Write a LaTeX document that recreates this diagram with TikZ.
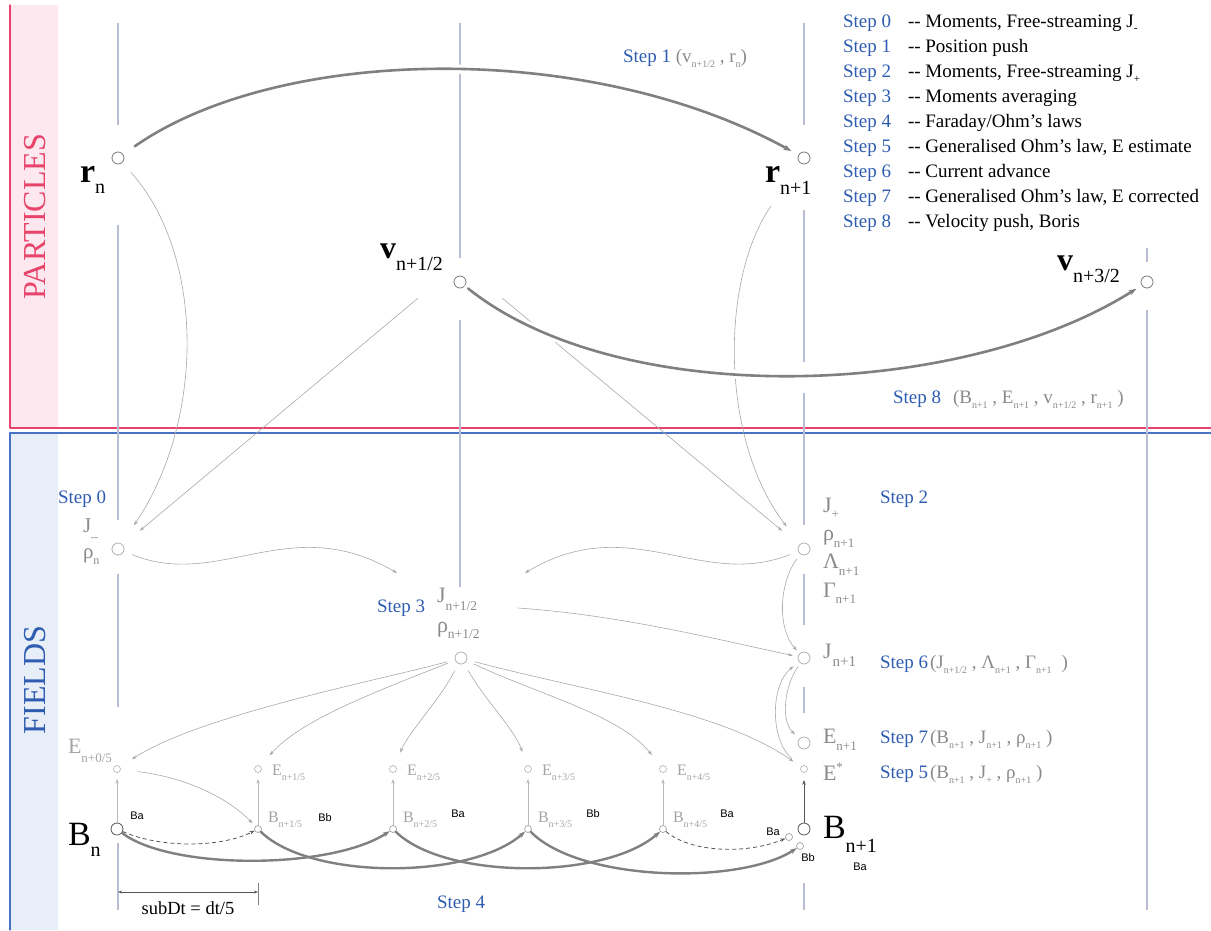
\documentclass[tikz,border=0pt]{standalone}
\usepackage{fontspec}
\setmainfont{Liberation Serif}
\newfontfamily\sansf{Liberation Sans}
\usetikzlibrary{arrows.meta}

\definecolor{pinkline}{HTML}{E8436A}
\definecolor{pinkfill}{HTML}{FCE8EE}
\definecolor{blueline}{HTML}{4A72C4}
\definecolor{bluefill}{HTML}{E8EEF8}
\definecolor{stepblue}{HTML}{2E5CB0}
\definecolor{timeline}{HTML}{B8BDD3}
\definecolor{nodegray}{HTML}{7A7A7A}
\definecolor{fieldgray}{HTML}{B0B0B0}
\definecolor{smallgray}{HTML}{B8B8B8}
\definecolor{arrowgray}{HTML}{A8A8A8}
\definecolor{thickgray}{HTML}{808080}
\definecolor{darkline}{HTML}{555555}
\definecolor{labgray}{HTML}{8A8A8A}
\definecolor{sublabgray}{HTML}{A4A4A4}

\newcommand{\fsz}[1]{\fontsize{#1}{#1}\selectfont}
\newcommand{\sublo}[3]{\raisebox{-#1pt}{\fsz{#2}#3}}
\newcommand{\dd}{-{}-\ }

\tikzset{
  dot/.style={circle, draw=nodegray, fill=white, line width=0.8pt, minimum size=12pt, inner sep=0pt},
  fdot/.style={dot, draw=fieldgray},
  sdot/.style={circle, draw=smallgray, fill=white, line width=0.7pt, minimum size=7pt, inner sep=0pt},
  tline/.style={draw=timeline, line width=1.4pt, line cap=butt},
  thinarr/.style={draw=arrowgray, line width=0.6pt, -{Stealth[length=5pt,width=3.4pt]}},
  thickarc/.style={draw=thickgray, line width=2.6pt, -{Stealth[length=8pt,width=5.5pt]},
    preaction={draw=white, line width=9pt, -}},
  thickB/.style={draw=thickgray, line width=2.4pt, -{Stealth[length=7pt,width=5pt]}},
  dashB/.style={draw=darkline, line width=0.8pt, line cap=butt, dash pattern=on 4pt off 3pt, -{Stealth[length=5pt,width=3.5pt]}},
  lbl/.style={anchor=base west, inner sep=0pt, outer sep=0pt, text=labgray},
  steplbl/.style={lbl, text=stepblue, font=\fsz{19}},
  balbl/.style={inner sep=0pt, font=\sansf\fsz{11}},
}

\begin{document}
\begin{tikzpicture}[x=1pt, y=-1pt, line join=round, line cap=round, >=stealth]
\useasboundingbox (0,0) rectangle (1211,930);

% panels
\fill[pinkfill] (10,5) rectangle (58,428);
\draw[pinkline, line width=1.2pt] (10,5) -- (10,428) -- (1211,428);
\fill[bluefill] (10,433) rectangle (58,930);
\draw[blueline, line width=1.2pt] (10,930) -- (10,433) -- (1211,433);
\node[rotate=90, text=pinkline, font=\fsz{32}] (ptitle) at (35,217) {PARTICLES};
\node[rotate=90, text=stepblue, font=\fsz{32}] (ftitle) at (35,680) {FIELDS};

% time lines
\foreach \x/\a/\b in {118/23/125, 118/225/520, 118/574/707, 118/843/910,
    460/23/258, 460/320/587, 804/23/125, 804/210/362, 804/393/525,
    804/574/625, 804/687/713, 804/883/910, 1147/248/262, 1147/310/910}
  \draw[tline] (\x,\a) -- (\x,\b);

% particle nodes
\node[dot] (rn) at (118,158) {};
\node[dot] (rn1) at (804,158) {};
\node[dot] (vh) at (460,282) {};
\node[dot] (v3h) at (1147,282) {};
\coordinate (vtop) at (460,263);

% field nodes
\node[fdot] (Jm) at (118,549) {};
\node[fdot] (Jh) at (461,658) {};
\node[fdot] (Jp) at (804,549) {};
\node[fdot] (Jn1) at (804,658) {};
\node[fdot] (En1) at (804,743) {};
\node[sdot] (E5) at (804,769) {};
\node[dot, draw=darkline] (B0) at (117,829) {};
\node[dot, draw=darkline] (Bn1) at (804,829) {};
\node[sdot, draw=nodegray!70] (Ba) at (789,837) {};
\node[sdot, draw=nodegray!70] (Bb) at (800,846) {};
\node[sdot] (E0) at (117,769) {};
\foreach \k/\x in {1/258, 2/393, 3/528, 4/663} {
  \node[sdot] (E\k) at (\x,769) {};
  \node[sdot, draw=nodegray!70] (B\k) at (\x,829) {};
  \node[lbl, text=sublabgray] (E\k lab) at (\x+14,775) {\fsz{16}E\sublo{5}{10}{n+\k/5}};
  \node[lbl, text=sublabgray] (B\k lab) at (\x+10,822) {\fsz{16}B\sublo{5}{10}{n+\k/5}};
}
\coordinate (Jhin1) at (397,573);
\coordinate (Jhin2) at (525,573);
\coordinate (Jhout) at (518,608);

% particles to fields
\draw[thinarr, shorten <=13pt, shorten >=22pt] (rn) .. controls (205,255) and (205,420) .. (Jm);
\draw[thinarr, shorten <=55pt, shorten >=22pt] (vtop) -- (Jm);
\draw[thinarr, shorten <=55pt, shorten >=22pt] (vtop) -- (Jp);
\draw[thinarr, shorten <=52pt, shorten >=22pt] (rn1) .. controls (720,280) and (720,440) .. (Jp);

% moments
\draw[thinarr, shorten <=9pt] (Jm) .. controls (220,590) and (290,510) .. (Jhin1);
\draw[thinarr, shorten <=9pt] (Jp) .. controls (700,590) and (630,510) .. (Jhin2);
\draw[thinarr, shorten >=5pt] (Jhout) .. controls (620,615) and (720,640) .. (Jn1);
\draw[thinarr, shorten <=6pt, shorten >=4pt] (Jp) .. controls (778,585) and (778,630) .. (Jn1);
\draw[thinarr, shorten <=4pt, shorten >=6pt] (Jn1) .. controls (785,685) and (780,720) .. (En1);
\draw[thinarr, shorten <=12pt, shorten >=7pt] (E5) .. controls (770,740) and (770,685) .. (Jn1);

% J_{n+1/2} to the E sub-steps
\foreach \t/\a/\b/\s in {E0/{380,680}/{200,715}/14, E1/{380,690}/{300,720}/14,
    E2/{440,700}/{410,730}/14, E3/{485,700}/{515,730}/14,
    E4/{540,695}/{620,715}/14, E5/{580,690}/{720,710}/9}
  \draw[thinarr, shorten <=8pt, shorten >=\s pt] (Jh) .. controls (\a) and (\b) .. (\t);
\draw[thinarr, shorten <=17pt, shorten >=4pt] (E0) .. controls (190,778) and (230,800) .. (B1);

% B to E
\foreach \k in {0,...,4}
  \draw[thinarr, draw=smallgray, shorten >=6pt] (B\k) -- (E\k);
\draw[draw=darkline, line width=0.8pt, -{Stealth[length=5pt,width=3.5pt]}, shorten >=7pt] (Bn1) -- (E5);

% sub-cycling
\draw[dashB] (B0) .. controls (160,848) and (220,848) .. (B1);
\draw[dashB] (B4) .. controls (690,852) and (745,855) .. (Ba);
\draw[thickB] (B0) .. controls (170,870) and (330,870) .. (B2);
\draw[thickB] (B1) .. controls (310,880) and (470,880) .. (B3);
\draw[thickB] (B2) .. controls (445,880) and (605,880) .. (B4);
\draw[thickB] (B3) .. controls (580,882) and (740,885) .. (Bb);

% pushes
\draw[thickarc, shorten <=14pt, shorten >=8pt] (rn) .. controls (280,45) and (590,40) .. (rn1);
\draw[thickarc, shorten <=4pt, shorten >=6pt] (vh) .. controls (620,410) and (960,400) .. (v3h);

% subDt
\coordinate (dL) at (118,892);
\coordinate (dR) at (258,892);
\draw[draw=gray, line width=0.8pt, line cap=butt] (258,883) -- (258,905);
\draw[draw=darkline, line width=0.6pt, {Stealth[length=4pt,width=3pt]}-{Stealth[length=4pt,width=3pt]}] (dL) -- (dR);
\node[anchor=base, inner sep=0pt, font=\fsz{18.5}] (dtlab) at (188,914) {subDt = dt/5};

% particle labels
\node[lbl, text=black] (rnlab) at (80,182) {\fsz{34}\textbf{r}\sublo{11}{20}{n}};
\node[lbl, text=black] (rn1lab) at (765,182) {\fsz{34}\textbf{r}\sublo{12}{20}{n+1}};
\node[lbl, text=black] (vhlab) at (380,258) {\fsz{32}\textbf{v}\sublo{12}{20}{n+1/2}};
\node[lbl, text=black] (v3hlab) at (1057,270) {\fsz{32}\textbf{v}\sublo{12}{20}{n+3/2}};

% field labels
\node[lbl] (Jmlab) at (83,532) {\fsz{21}J\sublo{9}{14}{–}};
\node[lbl] (rhomlab) at (83,558) {\fsz{21}ρ\sublo{6}{12}{n}};
\node[lbl] (Jhlab) at (437,602) {\fsz{22}J\sublo{8}{13.5}{n+1/2}};
\node[lbl] (rhohlab) at (437,632) {\fsz{22}ρ\sublo{6}{13.5}{n+1/2}};
\node[lbl] (Jplab) at (823,512) {\fsz{22}J\sublo{6}{13}{+}};
\node[lbl] (rhoplab) at (823,540) {\fsz{22}ρ\sublo{7}{13}{n+1}};
\node[lbl] (Lplab) at (823,568) {\fsz{22}Λ\sublo{7}{13}{n+1}};
\node[lbl] (Gplab) at (823,597) {\fsz{22}Γ\sublo{6}{13}{n+1}};
\node[lbl] (Jn1lab) at (823,658) {\fsz{22}J\hspace{1pt}\sublo{8}{15}{n+1}};
\node[lbl] (En1lab) at (823,743) {\fsz{22}E\sublo{7}{13}{n+1}};
\node[lbl] (E5lab) at (823,780) {\fsz{22}E\raisebox{9pt}{\fsz{13}*}};
\node[lbl, text=sublabgray] (E0lab) at (68,753) {\fsz{22}E\sublo{9}{13}{n+0/5}};
\node[lbl, text=black] (B0lab) at (68,845) {\fsz{34}B\sublo{11}{20}{n}};
\node[lbl, text=black] (Bn1lab) at (823,838) {\fsz{34}B\sublo{14}{20}{n+1}};
\foreach \n/\t/\p in {ba0/Ba/{137,816}, bb1/Bb/{325,818}, ba2/Ba/{458,814}, bb3/Bb/{593,814},
    ba4/Ba/{727,814}, ba5/Ba/{773,832}, bb5/Bb/{808,858}, ba6/Ba/{860,867}}
  \node[balbl] (\n) at (\p) {\t};

% step labels
\node[steplbl] (s0f) at (58,503) {Step 0};
\node[steplbl] (s2f) at (880,503) {Step 2};
\node[steplbl] (s3f) at (377,612) {Step 3};
\node[steplbl] (s4f) at (437,908) {Step 4};
\node[steplbl] (s1p) at (623,62) {Step 1 \textcolor{labgray}{(v\sublo{5}{10}{n+1/2} , r\sublo{5}{10}{n})}};
\node[steplbl] (s8p) at (893,403) {Step 8\hspace{12pt}\textcolor{labgray}{(B\sublo{5}{10}{n+1} , E\sublo{5}{10}{n+1} , v\sublo{5}{10}{n+1/2} , r\sublo{5}{10}{n+1} )}};
\node[steplbl] (s6f) at (880,668) {Step 6\hspace{2pt}\textcolor{labgray}{(J\sublo{5}{10}{n+1/2} , Λ\sublo{5}{10}{n+1} , Γ\sublo{5}{10}{n+1}\hspace{10pt})}};
\node[steplbl] (s7f) at (880,743) {Step 7\hspace{2pt}\textcolor{labgray}{(B\sublo{5}{10}{n+1} , J\sublo{5}{10}{n+1} , ρ\sublo{5}{10}{n+1} )}};
\node[steplbl] (s5f) at (880,778) {Step 5\hspace{2pt}\textcolor{labgray}{(B\sublo{5}{10}{n+1} , J\sublo{5}{10}{+} , ρ\sublo{5}{10}{n+1} )}};

% legend
\foreach \k/\t in {0/{Moments, Free-streaming J\sublo{4}{11}{-}},
    1/{Position push}, 2/{Moments, Free-streaming J\sublo{5}{11}{+}},
    3/{Moments averaging}, 4/{Faraday/Ohm's laws},
    5/{Generalised Ohm's law, E estimate}, 6/{Current advance},
    7/{Generalised Ohm's law, E corrected}, 8/{Velocity push, Boris}} {
  \node[steplbl] (leg\k) at (843,{27+25*\k}) {Step \k};
  \node[lbl, text=black, font=\fsz{19}] (legd\k) at (908,{27+25*\k}) {\dd\t};
}
\end{tikzpicture}
\end{document}
